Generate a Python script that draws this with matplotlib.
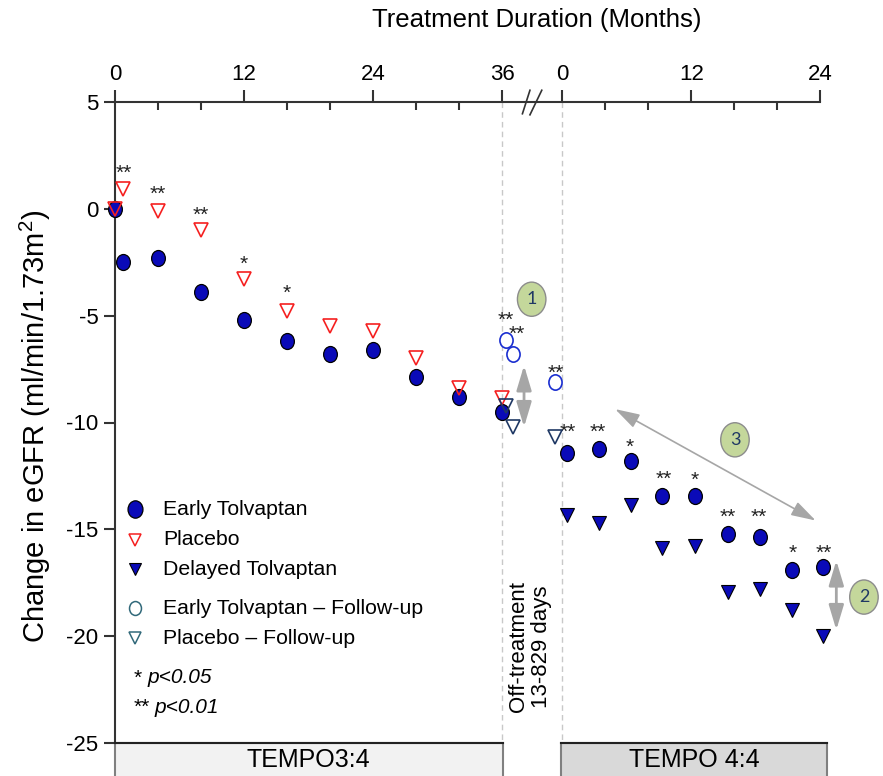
import matplotlib
matplotlib.use("Agg")
import matplotlib.pyplot as plt
from matplotlib.path import Path
from matplotlib.transforms import Affine2D
from matplotlib.patches import Rectangle, Ellipse, FancyArrowPatch

plt.rcParams['font.family'] = ['Liberation Sans', 'DejaVu Sans']
plt.rcParams['mathtext.fontset'] = 'custom'
plt.rcParams['mathtext.rm'] = 'Liberation Sans'
plt.rcParams['mathtext.it'] = 'Liberation Sans:italic'
plt.rcParams['axes.unicode_minus'] = False

# TEMPO 3:4 (months on treatment)
months_34 = [0, 0.7, 4, 8, 12, 16, 20, 24, 28, 32, 36]
early_34 = [0, -2.47, -2.31, -3.9, -5.19, -6.18, -6.8, -6.6, -7.85, -8.8, -9.5]
placebo_34 = [0, 0.92, -0.12, -1.0, -3.3, -4.78, -5.5, -5.7, -7.0, -8.4, -8.85]

# follow-up visits (positions on the shared axis)
fu_x = [36.4, 37.0, 40.95]
early_fu = [-6.13, -6.79, -8.11]
placebo_fu = [-9.22, -10.19, -10.66]

# TEMPO 4:4, month 0 sits at OFFSET on the shared axis
OFFSET = 41.6
months_44 = [0.4, 3.4, 6.4, 9.3, 12.4, 15.4, 18.4, 21.4, 24.3]
early_44 = [-11.43, -11.24, -11.79, -13.43, -13.43, -15.21, -15.38, -16.89, -16.77]
delayed_44 = [-14.32, -14.71, -13.87, -15.88, -15.8, -17.95, -17.8, -18.76, -19.98]

# significance marks
star_x = [0.84, 3.97, 8.0, 12.0, 16.0, 36.34, 37.37, 41.02,
          42.14, 44.9, 47.9, 51.07, 53.9, 56.96, 59.84, 63.0, 65.9]
star_y = [1.98, 1.0, 0.0, -2.31, -3.64, -4.91, -5.58, -7.38,
          -10.14, -10.14, -10.86, -12.37, -12.4, -14.16, -14.16, -15.83, -15.83]
star_txt = ['**', '**', '**', '*', '*', '**', '**', '**',
            '**', '**', '*', '**', '*', '**', '**', '*', '**']

top_ticks = [0, 12, 24, 36, OFFSET, OFFSET + 12, OFFSET + 24]
top_labels = ['0', '12', '24', '36', '0', '12', '24']
minor_ticks = [4, 8, 16, 20, 28, 32, OFFSET + 4, OFFSET + 8, OFFSET + 16, OFFSET + 20]

BLUE = '#0a0ab8'
RED = '#f52020'
ell = Path.unit_circle().transformed(Affine2D().scale(0.86, 1.0))

W, H = 883, 776
fig = plt.figure(figsize=(W / 100, H / 100), dpi=100)
ax = fig.add_axes([115 / W, 33 / H, 765 / W, 641 / H])
ax.set_xlim(0, 765 / 10.75)
ax.set_ylim(-25, 5)

for s in ['right', 'bottom']:
    ax.spines[s].set_visible(False)
for s in ['left', 'top']:
    ax.spines[s].set_linewidth(1.5)
    ax.spines[s].set_color('#333333')
ax.spines['left'].set_bounds(-25, 5)
ax.spines['top'].set_bounds(0, OFFSET + 24)

ax.xaxis.tick_top()
ax.set_xticks(top_ticks)
ax.set_xticklabels(top_labels)
ax.set_xticks(minor_ticks, minor=True)
ax.tick_params(axis='x', which='major', direction='out', length=9, width=1.5,
               color='#333333', labelsize=16, pad=3)
ax.tick_params(axis='x', which='minor', direction='in', length=6, width=1.5, color='#333333')
ax.set_yticks([5, 0, -5, -10, -15, -20, -25])
ax.tick_params(axis='y', direction='out', length=8, width=1.5, color='#333333',
               labelsize=16, pad=4)

# dashed separators
for xv in [36, OFFSET]:
    ax.plot([xv, xv], [5, -25], ls=(0, (4, 3)), color='#c8c8c8', lw=1, zorder=1)

# axis break marks
ax.plot([37.9, 38.6], [4.45, 5.55], color='#333333', lw=1.2, clip_on=False)
ax.plot([38.6, 39.7], [4.4, 5.55], color='#333333', lw=1.2, clip_on=False)

# data
ax.plot([m + OFFSET for m in months_44], delayed_44, ls='none', marker='v', ms=10,
        mfc=BLUE, mec='black', mew=0.8, zorder=3)
ax.plot(months_34, early_34, ls='none', marker=ell, ms=11.5, mfc=BLUE,
        mec='black', mew=0.9, zorder=3, clip_on=False)
ax.plot([m + OFFSET for m in months_44], early_44, ls='none', marker=ell, ms=11.5,
        mfc=BLUE, mec='black', mew=0.9, zorder=3)
ax.plot(months_34, placebo_34, ls='none', marker='v', ms=10.5, mfc='none',
        mec=RED, mew=1.2, zorder=4, clip_on=False)
ax.plot(fu_x, early_fu, ls='none', marker=ell, ms=11, mfc='white', mec='#1a2ed0',
        mew=1.2, zorder=4)
ax.plot(fu_x, placebo_fu, ls='none', marker='v', ms=10.5, mfc='none', mec='#1f3864',
        mew=1.2, zorder=4)

for x, y, t in zip(star_x, star_y, star_txt):
    ax.text(x, y - 0.3, t, fontsize=15, ha='center', va='center', color='#222222')

# arrows
arr_kw = dict(color='#a6a6a6', lw=2, mutation_scale=1, zorder=2)
ax.add_patch(FancyArrowPatch((38.05, -7.2), (38.05, -10.34),
                             arrowstyle='<|-|>,head_length=15,head_width=4.5', **arr_kw))
ax.add_patch(FancyArrowPatch((67.1, -16.33), (67.1, -19.84),
                             arrowstyle='<|-|>,head_length=15,head_width=4.5', **arr_kw))
ax.add_patch(FancyArrowPatch((46.3, -9.31), (65.4, -14.65),
                             arrowstyle='<|-|>,head_length=15,head_width=4.5',
                             color='#a6a6a6', lw=1.2, mutation_scale=1, zorder=2))

# numbered callouts
for x, y, t in [(38.76, -4.23, '1'), (57.67, -10.81, '3'), (69.67, -18.17, '2')]:
    ax.add_patch(Ellipse((x, y), 2.65, 1.6, facecolor='#c4d79b', edgecolor='#8c8c8c',
                         lw=1, zorder=5, clip_on=False))
    ax.text(x, y, t, fontsize=13, ha='center', va='center', color='#1f3864',
            family='Lato', zorder=6)

ax.text(38.6, -20.5, 'Off-treatment\n13-829 days', rotation=90, fontsize=16,
        ha='center', va='center', linespacing=1.1)

# legend
leg_x, txt_x = 1.86, 4.47
ax.plot(leg_x, -14.05, ls='none', marker=ell, ms=12.5, mfc=BLUE, mec='black', mew=0.9)
ax.plot(leg_x, -15.49, ls='none', marker='v', ms=9, mfc='none', mec=RED, mew=1.1)
ax.plot(leg_x, -16.86, ls='none', marker='v', ms=9, mfc=BLUE, mec='black', mew=0.8)
ax.plot(leg_x, -18.69, ls='none', marker=ell, ms=10, mfc='none', mec='#31697a', mew=1.1)
ax.plot(leg_x, -20.09, ls='none', marker='v', ms=9, mfc='none', mec='#31697a', mew=1.1)
for y, t in [(-14.05, 'Early Tolvaptan'), (-15.49, 'Placebo'), (-16.86, 'Delayed Tolvaptan'),
             (-18.69, 'Early Tolvaptan \u2013 Follow-up'), (-20.09, 'Placebo \u2013 Follow-up')]:
    ax.text(txt_x, y, t, fontsize=15.3, ha='left', va='center')
ax.text(1.75, -21.95, '*', fontsize=15, ha='left', va='center')
ax.text(2.98, -21.95, 'p<0.05', fontsize=15, ha='left', va='center', style='italic')
ax.text(1.7, -23.35, '**', fontsize=15, ha='left', va='center')
ax.text(3.72, -23.35, 'p<0.01', fontsize=15, ha='left', va='center', style='italic')

# study boxes
ax.add_patch(Rectangle((0, -27), 36.07, 2, facecolor='#f2f2f2', edgecolor='#808080',
                       lw=1.5, clip_on=False, zorder=2))
ax.add_patch(Rectangle((41.46, -27), 24.74, 2, facecolor='#d9d9d9', edgecolor='#808080',
                       lw=1.5, clip_on=False, zorder=2))
ax.plot([0, 36.07], [-25, -25], color='#222222', lw=1.5, clip_on=False, zorder=3)
ax.plot([41.46, 66.2], [-25, -25], color='#222222', lw=1.5, clip_on=False, zorder=3)
ax.text(18, -25.8, 'TEMPO3:4', fontsize=18, ha='center', va='center', zorder=4)
ax.text(53.9, -25.8, 'TEMPO 4:4', fontsize=18, ha='center', va='center', zorder=4)

fig.text(537 / W, 1 - 20 / H, 'Treatment Duration (Months)', fontsize=18.5,
         ha='center', va='center')
fig.text(35 / W, 1 - 426 / H, 'Change in eGFR (ml/min/1.73m$^2$)', fontsize=21,
         rotation=90, ha='center', va='center')

fig.savefig('out.png', dpi=100)
